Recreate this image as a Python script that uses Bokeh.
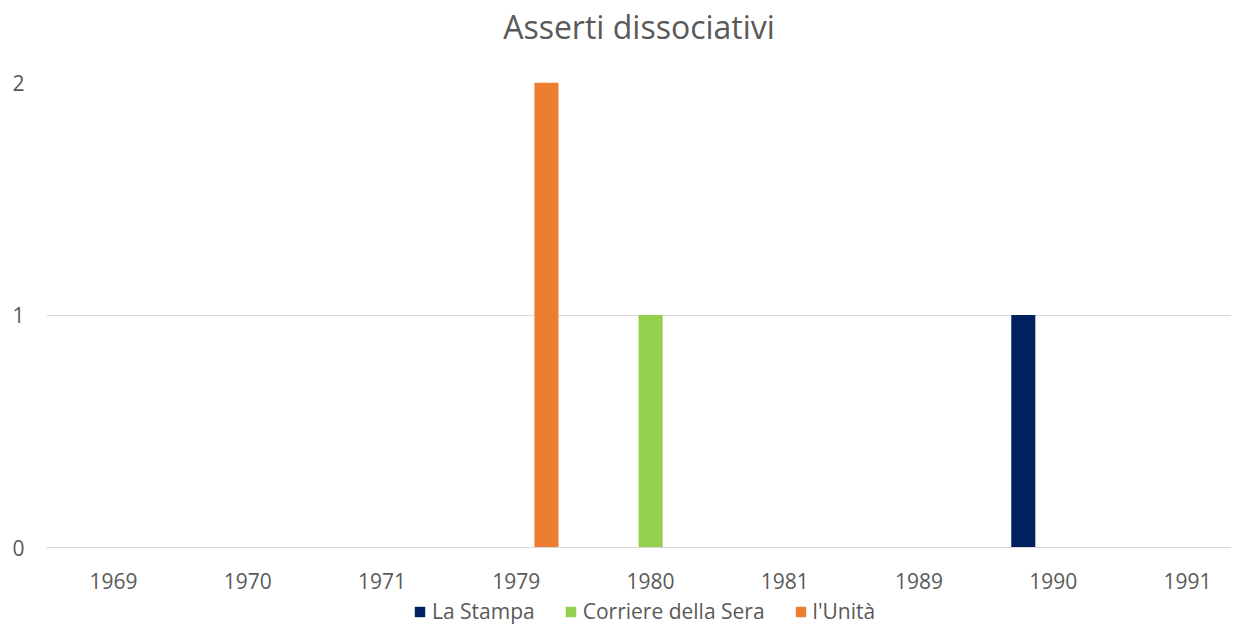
import numpy as np
from bokeh.plotting import figure
from bokeh.layouts import column
from bokeh.models import ColumnDataSource, Range1d, FixedTicker, Legend, LegendItem
from bokeh.embed import file_html
from bokeh.resources import INLINE

# ---- data ----
years = ["1969", "1970", "1971", "1979", "1980", "1981", "1989", "1990", "1991"]
series_names = ["La Stampa", "Corriere della Sera", "l'Unità"]
la_stampa = [0, 0, 0, 0, 0, 0, 0, 1, 0]
corriere = [0, 0, 0, 0, 1, 0, 0, 0, 0]
unita = [0, 0, 0, 2, 0, 0, 0, 0, 0]
colors = ["#002060", "#92D050", "#ED7D31"]
y_ticks = [0, 1, 2]
title_text = "Asserti dissociativi"

FONT = "Open Sans"
TXT = "#595959"
GRID = "#D9D9D9"

n = len(years)
idx = np.arange(n) + 0.5
bar_w = 0.179
offsets = [-0.224, 0.0, 0.224]

W = 1231
LEFT = 46
TITLE_H = 54


def bare(fig):
    fig.xgrid.grid_line_color = None
    fig.ygrid.grid_line_color = None
    fig.outline_line_color = None
    fig.background_fill_color = "white"
    fig.border_fill_color = "white"


# ---- title strip ----
tt = figure(width=W, height=TITLE_H, x_range=Range1d(0, 1), y_range=Range1d(0, 1),
            output_backend="svg", toolbar_location=None,
            x_axis_location=None, y_axis_location=None,
            min_border_left=LEFT, min_border_right=0, min_border_top=0, min_border_bottom=0)
bare(tt)
tt.title.text = title_text
tt.title.text_font = FONT
tt.title.text_font_size = "32px"
tt.title.text_font_style = "normal"
tt.title.text_color = TXT
tt.title.align = "center"
tt.title.vertical_align = "top"
tt.title.standoff = 8

# ---- main chart ----
p = figure(width=W, height=595 - TITLE_H,
           x_range=Range1d(0, 8.827), y_range=Range1d(0, 2),
           output_backend="svg", toolbar_location=None,
           min_border_left=LEFT, min_border_right=0,
           min_border_top=82 - TITLE_H, min_border_bottom=48)
bare(p)

sources = []
for vals, col, off in zip([la_stampa, corriere, unita], colors, offsets):
    src = ColumnDataSource(dict(x=idx + off, top=vals))
    sources.append(src)
    p.vbar(x="x", top="top", width=bar_w, source=src,
           fill_color=col, line_color=None)

# x axis
p.xaxis.ticker = FixedTicker(ticks=list(idx))
p.xaxis.major_label_overrides = {float(v): y for v, y in zip(idx, years)}
p.xaxis.major_label_text_font = FONT
p.xaxis.major_label_text_font_size = "21px"
p.xaxis.major_label_text_color = TXT
p.xaxis.axis_line_color = GRID
p.xaxis.axis_line_width = 1
p.xaxis.major_tick_line_color = None
p.xaxis.minor_tick_line_color = None
p.xaxis.major_tick_in = 0
p.xaxis.major_tick_out = 0
p.xaxis.major_label_standoff = 25

# y axis
p.yaxis.ticker = FixedTicker(ticks=y_ticks)
p.yaxis.major_label_text_font = FONT
p.yaxis.major_label_text_font_size = "21px"
p.yaxis.major_label_text_color = TXT
p.yaxis.axis_line_color = None
p.yaxis.major_tick_line_color = None
p.yaxis.minor_tick_line_color = None
p.yaxis.major_tick_in = 0
p.yaxis.major_tick_out = 0
p.yaxis.major_label_standoff = 22

p.ygrid.grid_line_color = GRID
p.ygrid.grid_line_width = 1

# ---- legend strip: same series sources, bars lie outside this strip's view ----
lg = figure(width=W, height=30, x_range=Range1d(0, 8.827), y_range=Range1d(10, 11),
            output_backend="svg", toolbar_location=None,
            x_axis_location=None, y_axis_location=None,
            min_border_left=LEFT, min_border_right=0, min_border_top=0, min_border_bottom=0)
bare(lg)

legend_items = []
for nm, col, src in zip(series_names, colors, sources):
    r = lg.vbar(x="x", top="top", width=bar_w, source=src, fill_color=col, line_color=None)
    legend_items.append(LegendItem(label=nm, renderers=[r]))

legend = Legend(items=legend_items, orientation="horizontal", location=(367, 0),
                glyph_width=13, glyph_height=13, label_standoff=6, spacing=29,
                border_line_color=None, background_fill_alpha=0,
                label_text_font=FONT, label_text_font_size="21px", label_text_color=TXT,
                padding=0, margin=0)
lg.add_layout(legend, "center")

layout = column(tt, p, lg, spacing=0)
open("out.html", "w").write(file_html(layout, INLINE))
